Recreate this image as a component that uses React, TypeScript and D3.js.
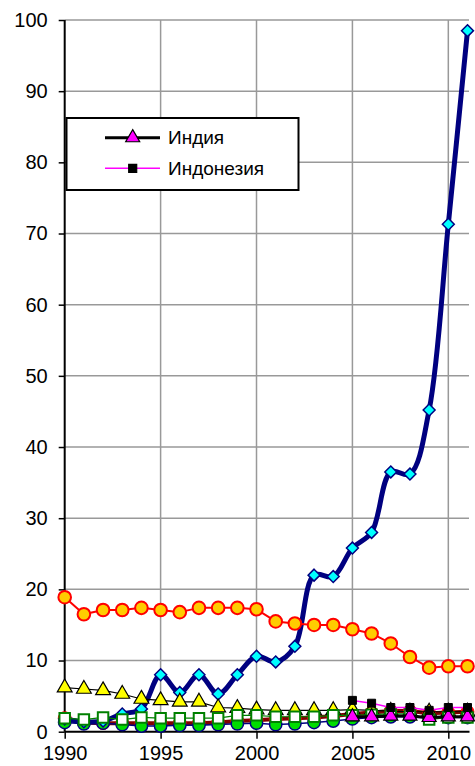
import React, { useEffect, useRef } from "react";
import * as d3 from "d3";

// years on the x axis
const years = d3.range(1990, 2012);

// navy line, cyan diamonds
const chinaValues = [1.8, 1.4, 1.5, 2.5, 3.2, 8.0, 5.5, 8.0, 5.3, 8.0, 10.6, 9.8, 12.0, 22.0, 21.8, 25.8, 28.0, 36.5, 36.2, 45.2, 71.3, 98.5];
// red line, orange circles
const orangeValues = [18.9, 16.5, 17.1, 17.1, 17.4, 17.1, 16.8, 17.4, 17.4, 17.4, 17.2, 15.5, 15.2, 15.0, 15.0, 14.4, 13.8, 12.4, 10.5, 9.0, 9.2, 9.2];
// thin black line, yellow triangles
const yellowValues = [6.2, 6.0, 5.8, 5.3, 4.6, 4.4, 4.2, 4.2, 3.4, 3.3, 3.1, 3.0, 3.0, 3.0, 3.0, 3.1, 3.0, 2.9, 2.8, 2.8, 2.8, 2.8];
// green line, white squares
const squareValues = [1.9, 1.7, 2.0, 1.7, 2.0, 1.9, 1.9, 1.9, 1.9, 2.3, 2.3, 2.1, 2.1, 2.1, 2.3, 2.3, 2.4, 2.5, 2.5, 1.7, 2.0, 2.0];
// thick maroon line
const maroonValues = [1.9, 1.3, 1.2, 1.2, 1.2, 1.2, 1.2, 1.2, 1.3, 1.5, 1.6, 1.8, 1.9, 2.0, 2.2, 2.5, 2.7, 2.9, 2.9, 2.6, 2.7, 2.8];
// green circles with navy edge
const greenValues = [1.3, 1.1, 1.2, 1.0, 0.8, 0.8, 0.9, 0.9, 1.0, 1.1, 1.2, 1.0, 1.1, 1.3, 1.5, 1.8, 2.0, 2.1, 2.1, 1.9, 2.0, 2.0];
// India: thick black line, magenta triangles (from 2005)
const indiaYears = d3.range(2005, 2012);
const indiaValues = [2.1, 2.1, 2.2, 2.2, 2.0, 2.1, 2.1];
// Indonesia: magenta line, black squares (from 2005)
const indonesiaValues = [4.4, 4.0, 3.4, 3.4, 3.0, 3.4, 3.4];

const yTicks = d3.range(0, 101, 10);
const xTicks = [1990, 1995, 2000, 2005, 2010];
const legendNames = ["Индия", "Индонезия"];

const App = () => {
  const ref = useRef<SVGSVGElement>(null);

  useEffect(() => {
    const width = 475;
    const height = 766;
    const left = 64.7;
    const right = 467.5;
    const top = 20;
    const bottom = 731.7;
    const font = "'Liberation Sans', Arial, sans-serif";

    const x = d3.scaleLinear().domain([1990, 2011]).range([left, right]);
    const y = d3.scaleLinear().domain([0, 100]).range([bottom, top]);

    const svg = d3.select(ref.current).attr("width", width).attr("height", height);
    svg.selectAll("*").remove();

    // grid
    svg
      .append("g")
      .selectAll("line")
      .data(yTicks.slice(1))
      .join("line")
      .attr("x1", left)
      .attr("x2", right + 1.5)
      .attr("y1", (d) => y(d))
      .attr("y2", (d) => y(d))
      .attr("stroke", "#999")
      .attr("stroke-width", 1.5);
    svg
      .append("g")
      .selectAll("line")
      .data(xTicks.slice(1))
      .join("line")
      .attr("x1", (d) => x(d))
      .attr("x2", (d) => x(d))
      .attr("y1", top)
      .attr("y2", bottom)
      .attr("stroke", "#999")
      .attr("stroke-width", 1.5);

    // axes
    const yAxis = svg
      .append("g")
      .attr("transform", `translate(${left},0)`)
      .call(d3.axisLeft(y).tickValues(yTicks).tickSize(6).tickPadding(11));
    yAxis.select(".domain").attr("stroke", "#000").attr("stroke-width", 2).attr("d", `M0,${top}V${bottom}`);
    yAxis.selectAll(".tick line").attr("stroke", "#000").attr("stroke-width", 1.5);
    yAxis.selectAll(".tick text").attr("font-family", font).attr("font-size", 20).attr("fill", "#000");

    const xAxis = svg
      .append("g")
      .attr("transform", `translate(0,${bottom})`)
      .call(d3.axisBottom(x).tickValues(xTicks).tickFormat(d3.format("d")).tickSize(7).tickPadding(7));
    xAxis.select(".domain").attr("stroke", "#000").attr("stroke-width", 2).attr("d", `M${left},0H${right + 2}`);
    xAxis.selectAll(".tick line").attr("stroke", "#000").attr("stroke-width", 1.5);
    xAxis.selectAll(".tick text").attr("font-family", font).attr("font-size", 20).attr("fill", "#000");

    const line = d3
      .line<number>()
      .x((_, i) => x(years[i]))
      .y((d) => y(d));
    const lineLate = d3
      .line<number>()
      .x((_, i) => x(indiaYears[i]))
      .y((d) => y(d));

    const drawLine = (vals: number[], gen: any, color: string, w: number) =>
      svg.append("path").datum(vals).attr("fill", "none").attr("stroke", color).attr("stroke-width", w).attr("stroke-linejoin", "round").attr("d", gen);

    const drawMarkers = (vals: number[], xs: number[], type: any, size: number, fill: string, stroke: string, sw: number) =>
      svg
        .append("g")
        .selectAll("path")
        .data(vals)
        .join("path")
        .attr("transform", (d, i) => `translate(${x(xs[i])},${y(d)})`)
        .attr("d", d3.symbol().type(type).size(size)())
        .attr("fill", fill)
        .attr("stroke", stroke)
        .attr("stroke-width", sw);

    // maroon series
    drawLine(maroonValues, line, "#800000", 4);
    drawMarkers(maroonValues, years, d3.symbolCircle, 130, "#ff0000", "#ff0000", 1);
    // green circles
    drawLine(greenValues, line, "#000080", 1.5);
    drawMarkers(greenValues, years, d3.symbolCircle, 120, "#00dd00", "#000080", 1.5);
    // china
    drawLine(chinaValues, d3.line<number>().curve(d3.curveCatmullRom.alpha(0.5)).x((_, i) => x(years[i])).y((d) => y(d)), "#000080", 5);
    drawMarkers(chinaValues, years, d3.symbolDiamond2, 90, "#00ffff", "#000080", 1.5);
    // orange
    drawLine(orangeValues, line, "#ff0000", 2);
    drawMarkers(orangeValues, years, d3.symbolCircle, 125, "#ffcc00", "#ff0000", 2);
    // yellow triangles
    drawLine(yellowValues, line, "#000", 1.2);
    drawMarkers(yellowValues, years, d3.symbolTriangle, 95, "#ffff00", "#000", 1.2);
    // squares
    drawLine(squareValues, line, "#008000", 1.2);
    drawMarkers(squareValues, years, d3.symbolSquare, 110, "#fff", "#008000", 2);
    // India
    drawLine(indiaValues, lineLate, "#000", 3);
    drawMarkers(indiaValues, indiaYears, d3.symbolTriangle, 85, "#ff00ff", "#000", 1.2);
    // Indonesia
    drawLine(indonesiaValues, lineLate, "#ff00ff", 1.5);
    drawMarkers(indonesiaValues, indiaYears, d3.symbolSquare, 64, "#000", "#000", 1);

    // legend
    const lg = svg.append("g");
    lg.append("rect")
      .attr("x", 66.5)
      .attr("y", 118)
      .attr("width", 232)
      .attr("height", 72)
      .attr("fill", "#fff")
      .attr("stroke", "#000")
      .attr("stroke-width", 2);
    const rows = [
      { name: legendNames[0], color: "#000", w: 3, sym: d3.symbolTriangle, size: 85, fill: "#ff00ff", stroke: "#000" },
      { name: legendNames[1], color: "#ff00ff", w: 1.5, sym: d3.symbolSquare, size: 64, fill: "#000", stroke: "#000" },
    ];
    rows.forEach((r, i) => {
      const cy = 137.7 + i * 30.6;
      lg.append("line").attr("x1", 105).attr("x2", 160).attr("y1", cy).attr("y2", cy).attr("stroke", r.color).attr("stroke-width", r.w);
      lg.append("path")
        .attr("transform", `translate(132.7,${cy})`)
        .attr("d", d3.symbol().type(r.sym).size(r.size)())
        .attr("fill", r.fill)
        .attr("stroke", r.stroke)
        .attr("stroke-width", 1.2);
      lg.append("text")
        .attr("x", 168)
        .attr("y", cy + 6.5)
        .attr("font-family", font)
        .attr("font-size", 19)
        .text(r.name);
    });
  }, []);

  return (
    <svg ref={ref} style={{ position: "absolute", left: 0, top: 0, background: "#fff" }}></svg>
  );
};

export default App;
